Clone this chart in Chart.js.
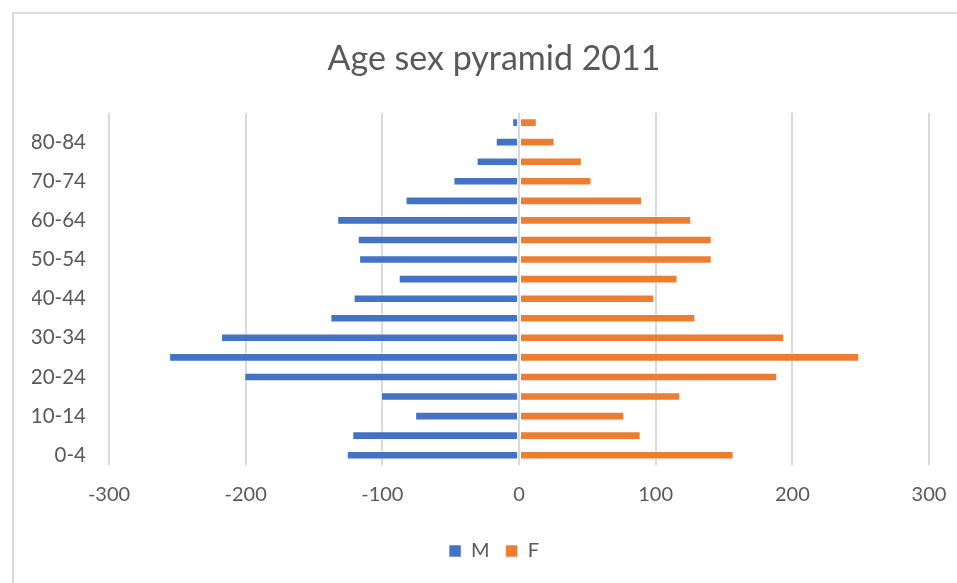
<!DOCTYPE html>
<html>
<head>
<meta charset="utf-8">
<script src="https://cdn.jsdelivr.net/npm/chart.js@4"></script>
<style>
  html, body { margin: 0; padding: 0; background: #fff; overflow: hidden; }
  #wrap { position: relative; width: 957px; height: 583px; }
  #frame { position: absolute; left: 12px; top: 12px; width: 1200px; height: 1200px;
           border-left: 2px solid #dadada; border-top: 2px solid #dadada; box-sizing: border-box; }
  canvas { position: absolute; left: 0; top: 0; }
</style>
</head>
<body>
<div id="wrap">
  <div id="frame"></div>
  <canvas id="c" width="957" height="583"></canvas>
</div>
<script>
const title = "Age sex pyramid 2011";
const categories = ["0-4","5-9","10-14","15-19","20-24","25-29","30-34","35-39","40-44",
                    "45-49","50-54","55-59","60-64","65-69","70-74","75-79","80-84","85+"];
const maleValues   = [-126,-122,-76,-101,-201,-256,-218,-138,-121,-88,-117,-118,-133,-83,-48,-31,-17,-5];
const femaleValues = [157, 89, 77, 118, 189, 249, 194, 129, 99, 116, 141, 141, 126, 90, 53, 46, 26, 13];
const xTicks = [-300,-200,-100,0,100,200,300];
const seriesNames = ["M","F"];

const textColor = '#595959';
const fontFamily = 'Lato, "Open Sans", sans-serif';

new Chart(document.getElementById('c'), {
  type: 'bar',
  data: {
    labels: categories,
    datasets: [
      { label: seriesNames[0], data: maleValues, backgroundColor: '#4472C4',
        borderColor: 'rgba(255,255,255,0.55)', borderWidth: 1, borderSkipped: false },
      { label: seriesNames[1], data: femaleValues, backgroundColor: '#ED7D31',
        borderColor: 'rgba(255,255,255,0.55)', borderWidth: 1, borderSkipped: false }
    ]
  },
  options: {
    indexAxis: 'y',
    responsive: false,
    animation: false,
    devicePixelRatio: 1,
    layout: { padding: { left: 32, right: 1, top: 13, bottom: 12 } },
    datasets: { bar: { categoryPercentage: 1, barPercentage: 0.44 } },
    scales: {
      x: {
        stacked: true,
        min: xTicks[0], max: xTicks[xTicks.length - 1],
        afterBuildTicks: (scale) => { scale.ticks = xTicks.map(v => ({ value: v })); },
        afterFit: (scale) => { scale.paddingRight = 28; },
        grid: { color: '#d9d9d9', lineWidth: 2, drawTicks: false },
        border: { display: false },
        ticks: { color: textColor, font: { family: fontFamily, size: 20 }, padding: 18, maxRotation: 0 }
      },
      y: {
        stacked: true,
        reverse: true,
        grid: { display: false, drawTicks: false },
        border: { display: false },
        afterFit: (scale) => { scale.width = 77; },
        ticks: {
          autoSkip: false,
          color: textColor,
          font: { family: fontFamily, size: 20.5 },
          padding: 23,
          callback: function (value, index) { return index % 2 === 0 ? this.getLabelForValue(value) : ''; }
        }
      }
    },
    plugins: {
      title: {
        display: true, text: title, color: textColor,
        font: { family: fontFamily, size: 34, weight: 'normal' },
        padding: { top: 26, bottom: 33 }
      },
      legend: {
        position: 'bottom',
        labels: { color: textColor, font: { family: fontFamily, size: 20 },
                  boxWidth: 12, boxHeight: 12, padding: 16 }
      },
      tooltip: { enabled: false }
    }
  }
});
</script>
</body>
</html>
